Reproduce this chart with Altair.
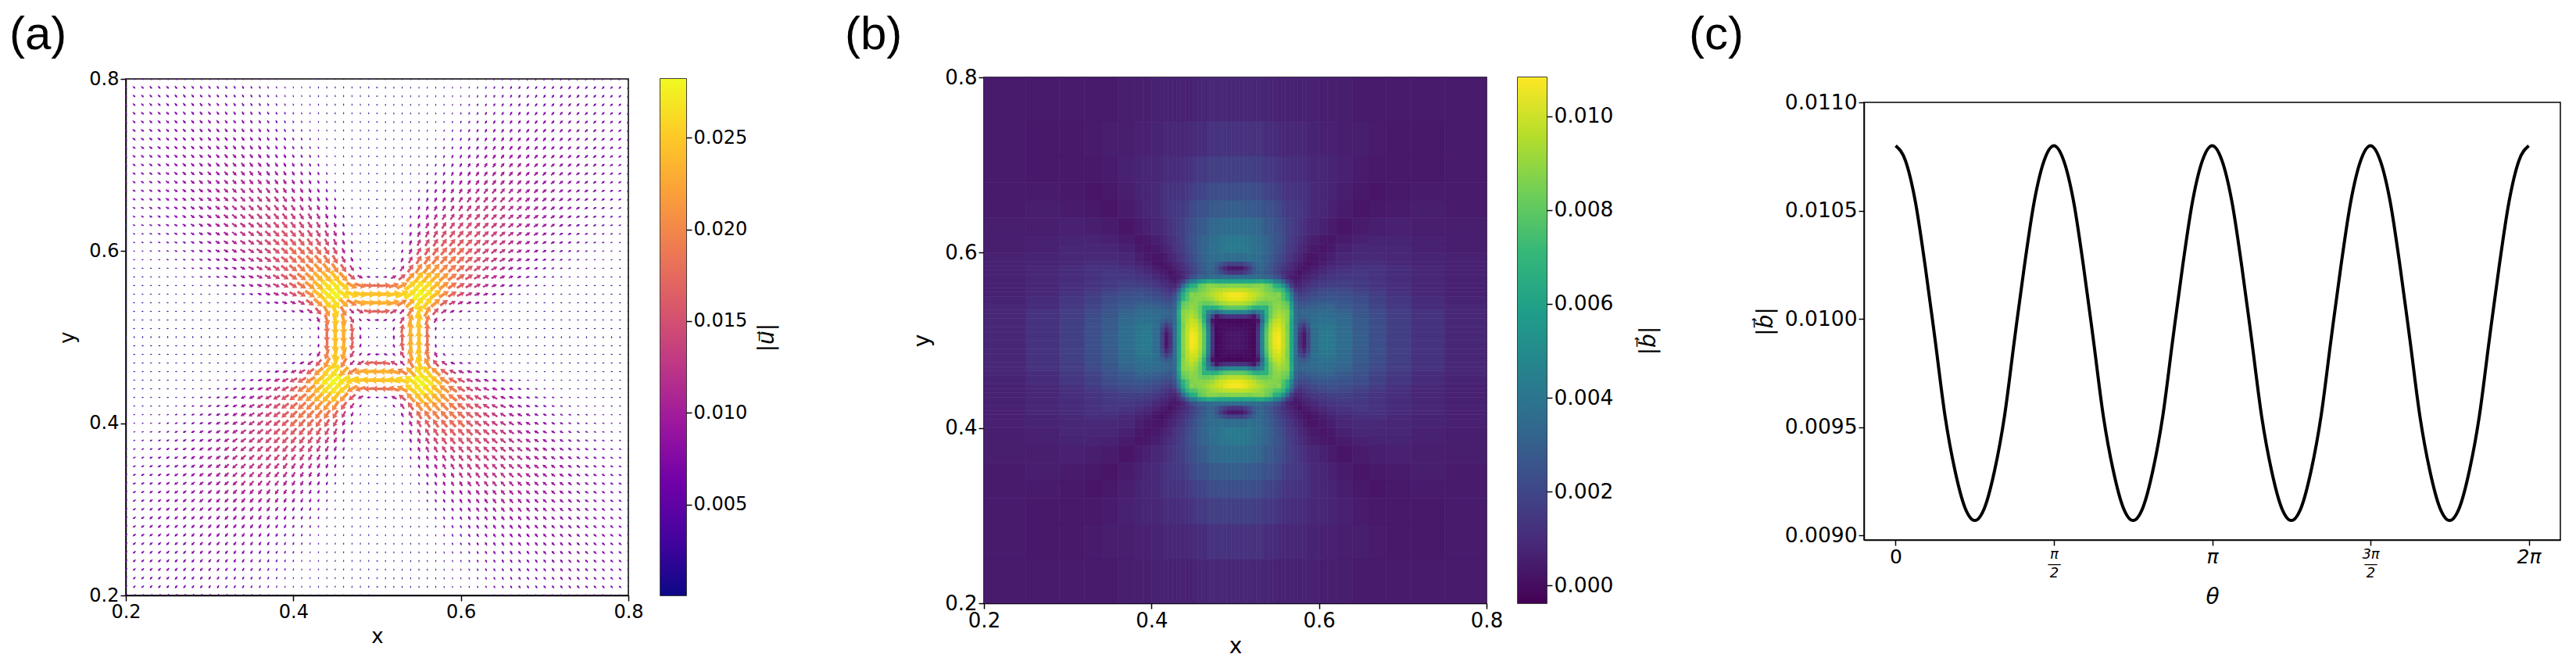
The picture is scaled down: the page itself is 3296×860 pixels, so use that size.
import math
import altair as alt
import pandas as pd

# ---------- panel (a): speed, upper-right quadrant, unit 1e-4; row = |dy| index, first value at |dx| index = row
SPEED = [
 [5,30,80,170,230,245,180,60,15,15,18,18,18,18,18,18,18,18,18,18,18,18,18,18,18,18,18,18,18,18,18],
 [40,75,170,235,245,185,70,25,18,18,18,18,18,18,18,18,18,18,18,18,18,18,18,18,18,18,18,18,18,18],
 [70,140,225,250,195,110,65,45,30,22,20,18,18,18,18,18,18,18,18,18,18,18,18,18,18,18,18,18,18],
 [115,200,255,215,160,120,90,70,60,48,37,28,22,20,18,18,18,18,18,18,18,18,18,18,18,18,18,18],
 [230,265,255,215,170,135,110,97,83,68,58,47,38,31,25,21,20,18,18,18,18,18,18,18,18,18,18],
 [280,270,245,205,175,150,128,111,95,82,71,60,52,44,38,32,27,23,20,20,18,18,18,18,18,18],
 [265,240,215,190,165,146,131,116,101,89,78,69,60,52,46,40,35,30,26,23,20,19,18,18,18],
 [235,215,195,175,158,142,128,116,103,91,81,72,65,58,52,46,40,36,32,28,25,22,20,18],
 [200,190,178,163,151,138,124,112,101,90,82,74,67,60,54,48,44,40,36,32,29,26,24],
 [190,178,165,154,141,129,118,107,98,89,81,74,67,60,55,50,46,42,39,35,32,29],
 [180,163,153,143,132,123,113,104,96,88,80,73,67,62,57,52,48,44,40,37,34],
 [163,155,147,138,129,119,110,101,94,87,80,74,68,63,57,53,50,46,42,39],
 [150,143,137,129,121,112,104,96,90,83,77,72,67,62,58,54,50,46,43],
 [140,134,129,123,116,109,101,95,88,82,77,72,67,63,58,55,51,47],
 [130,127,121,117,110,104,98,92,87,81,76,71,66,63,59,55,51],
 [123,120,116,110,105,98,93,87,83,78,73,69,65,61,57,54],
 [116,112,108,103,99,94,89,85,80,76,72,68,64,61,57],
 [108,104,101,98,94,88,84,80,76,72,69,65,62,58],
 [100,97,95,93,89,84,80,76,73,69,66,63,60],
 [95,93,90,87,85,81,77,73,70,67,64,61],
 [90,87,85,83,81,79,74,71,68,65,62],
 [85,83,81,80,78,76,74,69,66,63],
 [81,80,78,77,75,74,71,67,64],
 [78,77,75,74,73,72,69,65],
 [75,74,73,72,71,69,66],
 [73,72,71,69,67,66],
 [71,70,68,66,65],
 [68,66,65,63],
 [65,63,61],
 [61,60],
 [59],
]
# arrow direction in degrees from +x, same layout as SPEED
DIRECTION = [
 [45]+[90]*30,
 [45,70,80,85,87,85,80,60,30,10,5,5,4,4,4,4,3,3,3,3,3,3,2,2,2,2,2,2,2,2],
 [45,60,75,78,72,62,40,25,15,10,9,9,8,8,7,7,6,6,6,5,5,5,5,5,4,4,4,4,4],
 [45,60,68,62,50,35,25,20,15,14,13,12,11,11,10,9,9,9,8,8,7,7,7,7,6,6,6,6],
 [45,55,52,42,35,28,25,20,18,17,16,15,14,13,13,12,11,11,10,10,9,9,9,8,8,8,8],
 [45,42,38,33,30,28,24,23,21,20,18,17,16,16,15,14,13,13,12,12,11,11,10,10,10,9],
 [45,41,37,34,32,29,27,25,23,22,21,19,18,18,17,16,15,15,14,13,13,13,12,12,11],
 [45,41,38,35,32,30,28,27,25,24,22,21,20,19,18,18,17,16,16,15,15,14,14,13],
 [45,42,39,36,34,32,30,28,27,25,24,23,22,21,20,19,18,18,17,17,16,15,15],
 [45,42,39,37,35,33,31,29,28,27,25,24,23,22,21,21,20,19,18,18,17,17],
 [45,42,40,38,36,34,32,30,29,28,27,25,24,23,23,22,21,20,20,19,18],
 [45,43,40,38,36,35,33,31,30,29,28,27,26,25,24,23,22,21,21,20],
 [45,43,41,39,37,35,34,32,31,30,29,28,27,26,25,24,23,22,22],
 [45,43,41,39,37,36,34,33,32,31,29,28,28,27,26,25,24,23],
 [45,43,41,39,38,36,35,34,32,31,30,29,28,27,27,26,25],
 [45,43,41,40,38,37,36,34,33,32,31,30,29,28,27,27],
 [45,43,42,40,39,37,36,35,34,33,32,31,30,29,28],
 [45,43,42,40,39,38,36,35,34,33,32,31,30,30],
 [45,43,42,41,39,38,37,36,35,34,33,32,31],
 [45,44,42,41,40,38,37,36,35,34,33,32],
 [45,44,42,41,40,39,38,37,36,35,34],
 [45,44,42,41,40,39,38,37,36,35],
 [45,44,42,41,40,39,38,37,36],
 [45,44,43,41,40,39,38,37],
 [45,44,43,42,41,40,39],
 [45,44,43,42,41,40],
 [45,44,43,42,41],
 [45,44,43,42],
 [45,44,43],
 [45,44],
 [45],
]
U_TICKS = [0.005, 0.010, 0.015, 0.020, 0.025]
U_RANGE = [0.00005, 0.0282]
PLASMA = ["#0d0887","#46039f","#7201a8","#9c179e","#bd3786","#d8576b","#ed7953","#fb9f3a","#fdca26","#f0f921"]

# ---------- panel (b): field, unit 1e-4; cell edges are offsets from the centre
B_EDGES = [0,.005,.01,.015,.02,.025,.03,.035,.04,.045,.05,.055,.06,.065,.07,.075,.08,.085,.09,.10,.11,.12,.14,.16,.18,.21,.25,.30]
B_FIELD = [
 [2,2,1,-1,-2,12,48,80,96,105,107,98,88,62,36,12,2,18,36,42,41,36,29,23,17,12,8],
 [2,1,-1,-2,12,48,80,96,104,106,98,88,62,36,13,3,18,36,42,41,36,29,23,17,12,8],
 [0,-1,-2,11,46,78,94,102,104,97,87,62,36,16,8,20,35,41,40,35,28,23,17,12,8],
 [-1,-2,8,42,74,92,100,101,96,86,62,36,21,15,25,38,40,39,35,28,23,17,12,8],
 [-1,2,34,68,88,97,99,94,88,62,36,28,25,30,36,38,38,34,28,22,17,12,8],
 [18,40,66,84,92,96,92,88,64,36,30,31,33,36,37,36,33,27,22,16,12,8],
 [45,68,82,90,93,90,88,65,34,31,32,33,34,35,34,31,26,21,16,12,8],
 [68,82,88,90,86,84,60,32,27,28,30,31,32,32,28,24,19,15,10,8],
 [84,88,88,84,80,56,30,24,24,26,28,29,29,27,23,18,14,10,7],
 [88,86,78,68,46,26,20,20,22,24,26,26,25,22,18,14,10,7],
 [88,76,66,42,22,16,17,19,21,23,24,23,20,16,12,9,6],
 [70,52,30,14,11,13,15,18,20,21,20,17,14,11,8,6],
 [35,16,8,8,10,12,14,16,17,17,15,13,11,8,6],
 [10,4,6,8,9,12,14,15,16,15,13,10,8,6],
 [3,3,5,7,9,12,13,14,14,12,10,8,6],
 [1,3,4,7,9,11,13,14,12,10,8,6],
 [1,2,4,7,9,11,12,12,10,8,6],
 [1,2,5,7,9,11,11,9,7,6],
 [2,3,5,8,9,9,8,7,6],
 [2,3,6,8,8,8,6,5],
 [2,4,6,7,7,6,5],
 [2,4,5,6,5,5],
 [2,3,4,5,4],
 [2,3,4,4],
 [3,3,4],
 [3,4],
 [4],
]
B_TICKS = [0.000, 0.002, 0.004, 0.006, 0.008, 0.010]
B_RANGE = [-0.00038, 0.01083]
VIRIDIS = ["#440154","#482878","#3e4989","#31688e","#26828e","#1f9e89","#35b779","#6ece58","#b5de2b","#fde725"]

# ---------- panel (c)
B_THETA = [
 .01080,.01073,.01054,.01024,.00990,.00955,.00930,.00913,.00907,.00913,.00930,.00955,.00990,.01024,.01054,.01073,
 .01080,.01073,.01054,.01024,.00990,.00955,.00930,.00913,.00907,.00913,.00930,.00955,.00990,.01024,.01054,.01073,
 .01080,.01073,.01054,.01024,.00990,.00955,.00930,.00913,.00907,.00913,.00930,.00955,.00990,.01024,.01054,.01073,
 .01080,.01073,.01054,.01024,.00990,.00955,.00930,.00913,.00907,.00913,.00930,.00955,.00990,.01024,.01054,.01073,
 .01080,
]
THETA_TICKS = [0, math.pi/2, math.pi, 3*math.pi/2, 2*math.pi]
C_TICKS = [0.0090, 0.0095, 0.0100, 0.0105, 0.0110]
XY_TICKS = [0.2, 0.4, 0.6, 0.8]

SHAPES = {
    "fat": "M0,-1 L0.7,0.25 L0.28,0.1 L0.28,1 L-0.28,1 L-0.28,0.1 L-0.7,0.25 Z",
    "mid": "M0,-1 L0.66,0.05 L0.26,-0.08 L0.26,1 L-0.26,1 L-0.26,-0.08 L-0.66,0.05 Z",
    "slim": "M0,-1 L0.62,-0.05 L0.26,-0.2 L0.26,1 L-0.26,1 L-0.26,-0.2 L-0.62,-0.05 Z",
}
FONT = "DejaVu Sans"
FRAME = {"stroke": "black", "strokeWidth": 1.5}


rows = []
for j in range(-30, 31):
    for i in range(-30, 31):
        a, b = abs(i), abs(j)
        if a >= b:
            m, d = SPEED[b][a - b], DIRECTION[b][a - b]
        else:
            m, d = SPEED[a][b - a], 90 - DIRECTION[a][b - a]
        sx = 1 if i >= 0 else -1
        sy = 1 if j >= 0 else -1
        ux = sy * m * math.cos(math.radians(d)) * 1e-4
        uy = sx * m * math.sin(math.radians(d)) * 1e-4
        length = max(720 * m * 1e-4, 2.8)
        rows.append({"x": round(0.5 + i * 0.01, 2), "y": round(0.5 + j * 0.01, 2), "speed": m * 1e-4,
                     "angle": math.degrees(math.atan2(ux, uy)), "size": length ** 2,
                     "form": "fat" if length < 8 else "mid" if length < 14 else "slim"})
quiver = pd.DataFrame(rows)

cells = []
for r, row in enumerate(B_FIELD):
    for k, v in enumerate(row):
        c = r + k
        for (p, q) in ((c, r), (r, c)) if c != r else ((c, r),):
            for sx in (1, -1):
                for sy in (1, -1):
                    cells.append({"x": 0.5 + sx * B_EDGES[p], "x2": 0.5 + sx * B_EDGES[p + 1],
                                  "y": 0.5 + sy * B_EDGES[q], "y2": 0.5 + sy * B_EDGES[q + 1], "v": v * 1e-4})
field = pd.DataFrame(cells)


def pos_axis(title, size, pad):
    return alt.Axis(values=XY_TICKS, format=".1f", title=title, labelFontSize=size, titleFontSize=size + 2,
                    titlePadding=pad)


xy = alt.Scale(domain=[0.2, 0.8], nice=False)

plot_a = (
    alt.Chart(quiver)
    .mark_point(filled=True, clip=True, strokeWidth=0, opacity=1)
    .encode(
        x=alt.X("x:Q", scale=xy, axis=pos_axis("x", 24, 6)),
        y=alt.Y("y:Q", scale=xy, axis=pos_axis("y", 24, 14)),
        color=alt.Color("speed:Q", scale=alt.Scale(scheme="plasma", domain=U_RANGE), legend=None),
        shape=alt.Shape("form:N", scale=alt.Scale(domain=list(SHAPES), range=list(SHAPES.values())), legend=None),
        angle=alt.Angle("angle:Q", scale=None),
        size=alt.Size("size:Q", scale=None),
    )
    .properties(width=643, height=661, view=FRAME)
)


def colorbar(domain, ticks, stops, title, w, h, size, pad):
    stop_list = [alt.GradientStop(offset=n / (len(stops) - 1), color=s) for n, s in enumerate(stops)]
    data = pd.DataFrame({"lo": [domain[0]], "hi": [domain[1]]})
    return (
        alt.Chart(data)
        .mark_rect(color=alt.LinearGradient(gradient="linear", stops=stop_list, x1=0, x2=0, y1=1, y2=0))
        .encode(
            x=alt.value(0), x2=alt.value(w),
            y=alt.Y("lo:Q", scale=alt.Scale(domain=domain, nice=False, zero=False),
                    axis=alt.Axis(orient="right", values=ticks, format=".3f", title=title, titleAngle=270,
                                  labelFontSize=size, titleFontSize=28, titlePadding=pad,
                                  titleFontStyle="italic", domain=False)),
            y2="hi:Q",
        )
        .properties(width=w, height=h, view=FRAME)
    )


def spacer(text, height, x):
    return (
        alt.Chart(pd.DataFrame({"t": [text]}))
        .mark_text(font="Liberation Sans", fontSize=60, align="left", baseline="alphabetic", color="black")
        .encode(text="t:N", x=alt.value(x), y=alt.value(55))
        .properties(width=10, height=height, view={"stroke": None})
    )


cb_a = colorbar(U_RANGE, U_TICKS, PLASMA, "|u\u20d7|", 33, 661, 24, 40)

plot_b = (
    alt.Chart(field)
    .mark_rect(strokeWidth=0.6)
    .encode(
        x=alt.X("x:Q", scale=xy, axis=pos_axis("x", 26, 6)),
        x2="x2:Q",
        y=alt.Y("y:Q", scale=xy, axis=pos_axis("y", 26, 14)),
        y2="y2:Q",
        color=alt.Color("v:Q", scale=alt.Scale(scheme="viridis", domain=B_RANGE), legend=None),
        stroke=alt.Stroke("v:Q", scale=alt.Scale(scheme="viridis", domain=B_RANGE), legend=None),
    )
    .properties(width=643, height=673, view=FRAME)
)
cb_b = colorbar(B_RANGE, B_TICKS, VIRIDIS, "|b\u20d7|", 37, 673, 26.5, 60)

curve = pd.DataFrame({"theta": [k * math.pi / 32 for k in range(len(B_THETA))], "b": B_THETA})
PI_LABELS = ("datum.index < 0.1 ? '0' : datum.index < 0.3 ? ['\u03c0','\u2014','2'] : datum.index < 0.6 ? '\u03c0' : "
             "datum.index < 0.9 ? ['3\u03c0','\u2014','2'] : '2\u03c0'")
SMALL = "(datum.index > 0.1 && datum.index < 0.3) || (datum.index > 0.6 && datum.index < 0.9)"
plot_c = (
    alt.Chart(curve)
    .mark_line(color="black", strokeWidth=4, interpolate="monotone")
    .encode(
        x=alt.X("theta:Q", scale=alt.Scale(domain=[-0.314, 6.597], nice=False, zero=False),
                axis=alt.Axis(values=THETA_TICKS, title="\u03b8", titleFontStyle="italic", titleFontSize=28,
                              labelFontSize={"condition": {"test": SMALL, "value": 18}, "value": 25},
                              labelFontStyle={"condition": {"test": "datum.index < 0.1", "value": "normal"},
                                              "value": "italic"},
                              labelExpr=PI_LABELS, titlePadding=8, labelLineHeight=12)),
        y=alt.Y("b:Q", scale=alt.Scale(domain=[0.00898, 0.0110], nice=False, zero=False),
                axis=alt.Axis(values=C_TICKS, format=".4f", title="|b\u20d7|", titleFontStyle="italic",
                              titleFontSize=28, labelFontSize=26.5, titlePadding=10)),
    )
    .properties(width=891, height=560, view=FRAME)
)


def indep(c):
    return c.resolve_scale(color="independent", stroke="independent", shape="independent")


block_a = alt.vconcat(spacer("(a)", 93, -149),
                      indep(alt.hconcat(plot_a, cb_a, spacing=41, bounds="flush")), spacing=0, bounds="flush")
block_b = alt.vconcat(spacer("(b)", 91, -178),
                      indep(alt.hconcat(plot_b, cb_b, spacing=40, bounds="flush")), spacing=0, bounds="flush")
block_c = alt.vconcat(spacer("(c)", 123, -224), plot_c, spacing=0, bounds="flush")

first = indep(alt.hconcat(indep(block_a), indep(block_b), spacing=1098, bounds="flush"))
chart = (
    indep(alt.hconcat(first, block_c, spacing=2224, bounds="flush"))
    .properties(padding={"left": 4, "top": 0, "right": 0, "bottom": 0}, background="white")
    .configure_axis(grid=False, tickColor="black", domainColor="black", labelColor="black", titleColor="black",
                    labelFont=FONT, titleFont=FONT, tickSize=7, tickWidth=1.5, domainWidth=1.5,
                    labelFlush=False, labelOverlap=False,
                    titleFontWeight="normal", labelFontWeight="normal")
)
chart.save("out.html", embed_options={"renderer": "svg", "actions": False})
